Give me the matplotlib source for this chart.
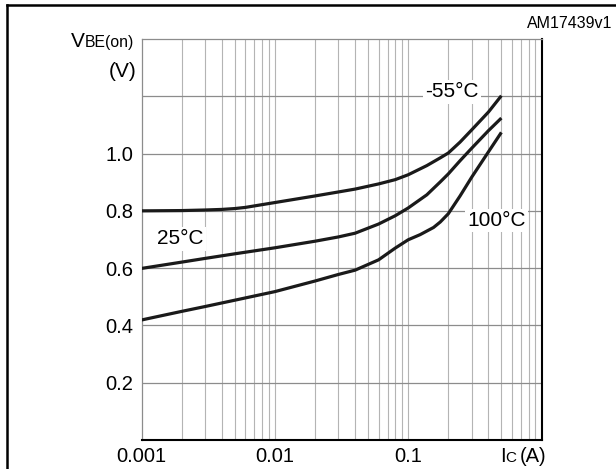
import matplotlib
matplotlib.use("Agg")
import matplotlib.pyplot as plt
from matplotlib.lines import Line2D
from matplotlib.ticker import FixedLocator, NullFormatter

plt.rcParams['font.family'] = ['Liberation Sans', 'DejaVu Sans']

# ---- data ----
ic_m55 = [0.001, 0.002, 0.003, 0.004, 0.005, 0.006, 0.01, 0.02, 0.03, 0.04, 0.06, 0.08,
          0.1, 0.138, 0.174, 0.2, 0.245, 0.3, 0.4, 0.5]
vbe_m55 = [0.800, 0.801, 0.803, 0.805, 0.808, 0.812, 0.829, 0.852, 0.866, 0.876, 0.894, 0.909,
           0.926, 0.958, 0.985, 1.002, 1.040, 1.083, 1.145, 1.202]

ic_25 = [0.001, 0.002, 0.003, 0.005, 0.01, 0.02, 0.03, 0.04, 0.06, 0.08, 0.1, 0.138,
         0.174, 0.2, 0.245, 0.3, 0.4, 0.5]
vbe_25 = [0.599, 0.621, 0.634, 0.650, 0.671, 0.694, 0.709, 0.722, 0.754, 0.783, 0.810, 0.856,
          0.901, 0.929, 0.975, 1.019, 1.080, 1.124]

ic_100 = [0.001, 0.002, 0.003, 0.005, 0.01, 0.02, 0.03, 0.04, 0.06, 0.08, 0.1, 0.123,
          0.155, 0.174, 0.2, 0.245, 0.3, 0.4, 0.5]
vbe_100 = [0.419, 0.449, 0.466, 0.488, 0.518, 0.555, 0.578, 0.593, 0.629, 0.670, 0.699, 0.717,
           0.742, 0.761, 0.790, 0.852, 0.918, 1.006, 1.074]

y_ticks = [0.2, 0.4, 0.6, 0.8, 1.0]
y_ticklabels = ["0.2", "0.4", "0.6", "0.8", "1.0"]
x_ticks = [0.001, 0.01, 0.1]
x_ticklabels = ["0.001", "0.01", "0.1"]

labels = ["-55°C", "25°C", "100°C"]

fig = plt.figure(figsize=(6.16, 4.69), dpi=100)
ax = fig.add_axes([141.5 / 616, 1 - 440 / 469, 400 / 616, 401 / 469])

ax.set_xscale('log')
ax.set_xlim(0.001, 1.0)
ax.set_ylim(0.0, 1.4)

# grid
minor = [m * 10.0 ** e for e in (-3, -2, -1) for m in range(2, 10)]
for xv in minor + [0.01, 0.1]:
    ax.axvline(xv, color='#b4b4b4', lw=0.8, zorder=1)
for yv in [0.2, 0.4, 0.6, 0.8, 1.0, 1.2]:
    ax.axhline(yv, color='#8c8c8c', lw=0.9, zorder=1)

for sp in ('left', 'top'):
    ax.spines[sp].set_color('#8c8c8c')
    ax.spines[sp].set_linewidth(0.9)
for sp in ('right', 'bottom'):
    ax.spines[sp].set_color('black')
    ax.spines[sp].set_linewidth(1.5)

for xs, ys in ((ic_m55, vbe_m55), (ic_25, vbe_25), (ic_100, vbe_100)):
    ax.plot(xs, ys, color='#1a1a1a', lw=2.3, zorder=3,
            solid_capstyle='butt', solid_joinstyle='round')

ax.xaxis.set_major_locator(FixedLocator(x_ticks))
ax.xaxis.set_minor_locator(FixedLocator([]))
ax.xaxis.set_minor_formatter(NullFormatter())
ax.set_xticks(x_ticks)
ax.set_xticklabels(x_ticklabels, fontsize=14.5)
ax.set_yticks(y_ticks)
ax.set_yticklabels(y_ticklabels, fontsize=14.5)
ax.tick_params(axis='both', length=0)
ax.tick_params(axis='x', pad=5)
ax.tick_params(axis='y', pad=6)

# curve labels with white boxes
bbox = dict(facecolor='white', edgecolor='none', pad=1.5)
ax.text(0.2134, 1.215, labels[0], fontsize=15, ha='center', va='center', bbox=bbox, zorder=2)
ax.text(0.00196, 0.702, labels[1], fontsize=15, ha='center', va='center', bbox=bbox, zorder=2)
ax.text(0.46, 0.765, labels[2], fontsize=15, ha='center', va='center', bbox=bbox, zorder=2)

# axis labels
fig.text(71 / 616, 1 - 47 / 469, "V", fontsize=15, ha='left', va='baseline')
fig.text(84.5 / 616, 1 - 47 / 469, "BE(on)", fontsize=11.3, ha='left', va='baseline')
fig.text(137 / 616, 1 - 76.7 / 469, "(V)", fontsize=15, ha='right', va='baseline')

fig.text(500 / 616, 1 - 461.7 / 469, "I", fontsize=14.5, ha='left', va='baseline')
fig.text(505.5 / 616, 1 - 461.7 / 469, "C", fontsize=11, ha='left', va='baseline')
fig.text(546 / 616, 1 - 461.7 / 469, "(A)", fontsize=14.5, ha='right', va='baseline')

fig.text(612 / 616, 1 - 24 / 469, "AM17439v1", fontsize=11.5, ha='right', va='center')

# outer frame (clipped at right and bottom)
fig.add_artist(Line2D([7 / 616, 7 / 616], [0, 1 - 5 / 469], transform=fig.transFigure,
                      color='black', lw=1.8))
fig.add_artist(Line2D([7 / 616, 1], [1 - 5 / 469, 1 - 5 / 469], transform=fig.transFigure,
                      color='black', lw=1.8))

fig.savefig("out.png", dpi=100)
